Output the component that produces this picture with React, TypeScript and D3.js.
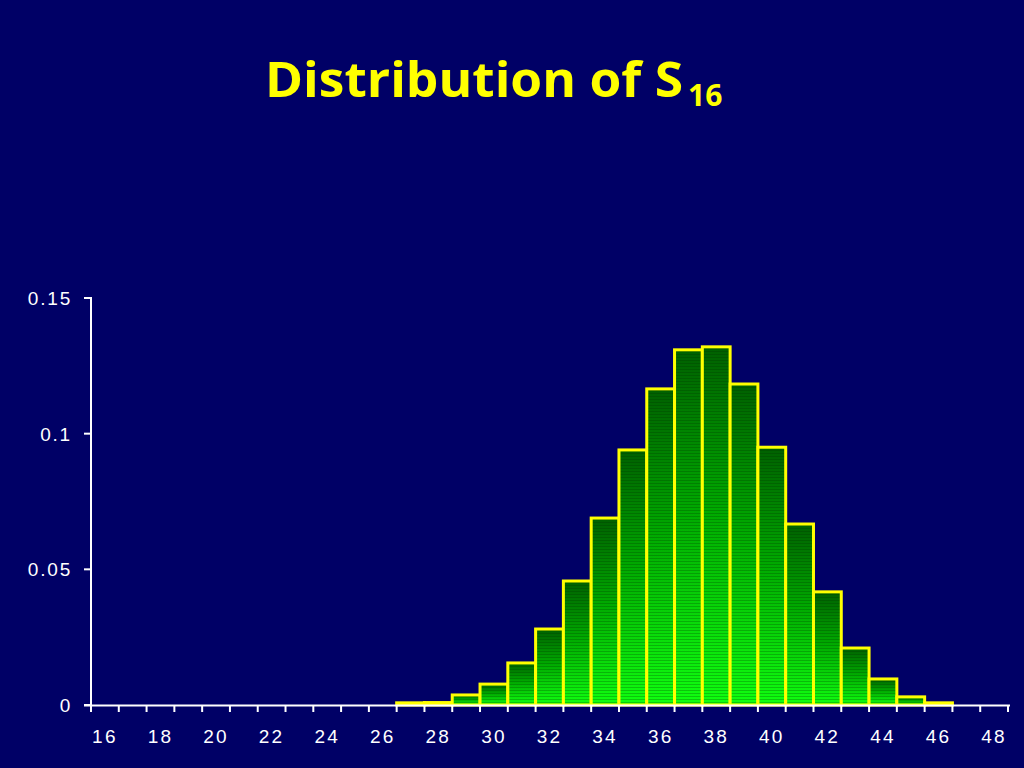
import React from "react";
import * as d3 from "d3";

const categories: number[] = d3.range(16, 49);
const probabilities: number[] = [
  0, 0, 0, 0, 0, 0, 0, 0, 0, 0, 0,
  0.0008, 0.0009, 0.0037, 0.0077, 0.0155, 0.028, 0.0457, 0.0689, 0.094,
  0.1165, 0.1309, 0.132, 0.1183, 0.095, 0.0667, 0.0417, 0.021, 0.0096,
  0.003, 0.0008, 0, 0,
];
const yTicks: number[] = [0, 0.05, 0.1, 0.15];
const yTickLabels: string[] = ["0", "0.05", "0.1", "0.15"];
const xLabelValues: number[] = d3.range(16, 49, 2);

const W = 1024;
const H = 768;
const BG = "#000066";

export default function App() {
  const x = d3.scaleBand<number>().domain(categories).range([91, 1008]).paddingInner(0).paddingOuter(0);
  const y = d3.scaleLinear().domain([0, 0.15]).range([705, 298]);
  const boundaries = d3.range(categories.length + 1).map((i) => 91 + i * x.bandwidth());
  const y0 = y(0);
  return (
    <svg width={W} height={H} style={{ position: "absolute", left: 0, top: 0, display: "block" }}>
      <defs>
        <linearGradient id="barGrad" x1="0" y1="0" x2="0" y2="1">
          <stop offset="0%" stopColor="#006000" />
          <stop offset="45%" stopColor="#00a800" />
          <stop offset="100%" stopColor="#10ff10" />
        </linearGradient>
        <pattern id="stripes" width="4" height="3" patternUnits="userSpaceOnUse">
          <rect x="0" y="0" width="4" height="1" fill="#003000" opacity="0.25" />
        </pattern>
      </defs>
      <rect x={0} y={0} width={W} height={H} fill={BG} />
      <text
        x={265}
        y={97}
        fill="#ffff00"
        fontFamily="'Comic Sans MS', 'Open Sans', sans-serif"
        fontWeight="bold"
        fontSize={48}
        textLength={418}
        lengthAdjust="spacingAndGlyphs"
      >
        Distribution of S
      </text>
      <text x={688} y={106} fill="#ffff00" fontFamily="'Open Sans', sans-serif" fontWeight="bold" fontSize={30}>
        16
      </text>

      {categories.map((c, i) => {
        const v = probabilities[i];
        if (v <= 0) return null;
        const bx = x(c) as number;
        const by = y(v);
        const h = y0 - by;
        return (
          <g key={c}>
            <rect x={bx} y={by} width={x.bandwidth()} height={h} fill="url(#barGrad)" />
            <rect x={bx} y={by} width={x.bandwidth()} height={h} fill="url(#stripes)" />
            <rect x={bx} y={by} width={x.bandwidth()} height={h} fill="none" stroke="#ffff00" strokeWidth={3} />
          </g>
        );
      })}

      {/* y axis */}
      <line x1={91} x2={91} y1={297} y2={707} stroke="#ffffff" strokeWidth={2} />
      {yTicks.map((t, i) => (
        <g key={t}>
          <line x1={84} x2={91} y1={y(t)} y2={y(t)} stroke="#ffffff" strokeWidth={2} />
          <text
            x={72}
            y={y(t)}
            dy="0.36em"
            textAnchor="end"
            fill="#ffffff"
            fontFamily="'Liberation Sans', Arial, sans-serif"
            fontSize={19}
            letterSpacing={1.8}
          >
            {yTickLabels[i]}
          </text>
        </g>
      ))}

      {/* x axis */}
      <line x1={84} x2={1010} y1={705.5} y2={705.5} stroke="#ffffff" strokeWidth={2} />
      {boundaries.map((b, i) => (
        <line key={i} x1={b} x2={b} y1={705} y2={712} stroke="#ffffff" strokeWidth={2} />
      ))}
      {xLabelValues.map((c) => (
        <text
          key={c}
          x={(x(c) as number) + x.bandwidth() / 2}
          y={743}
          textAnchor="middle"
          fill="#ffffff"
          fontFamily="'Liberation Sans', Arial, sans-serif"
          fontSize={19}
          letterSpacing={2.2}
        >
          {c}
        </text>
      ))}
    </svg>
  );
}
